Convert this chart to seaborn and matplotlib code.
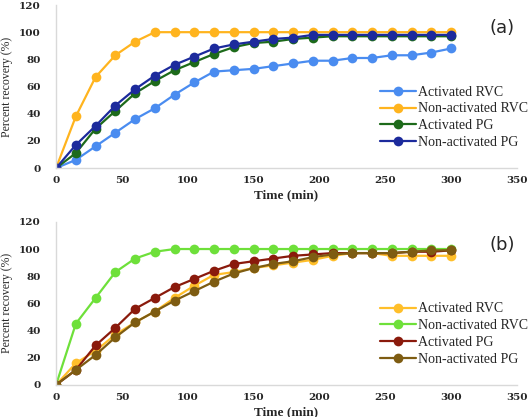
#!/usr/bin/env python3
import numpy as np
import pandas as pd
import matplotlib
matplotlib.use("Agg")
import matplotlib.pyplot as plt
import seaborn as sns

# time points (min)
time = list(range(0, 301, 15))

# panel (a)
a_labels = ['Activated RVC', 'Non-activated RVC', 'Activated PG', 'Non-activated PG']
a_act_rvc = [0, 6, 16, 26, 36, 44, 54, 63, 71, 72, 73, 75, 77, 79, 79, 81, 81, 83, 83, 85, 88]
a_non_rvc = [0, 38, 67, 83, 93, 100, 100, 100, 100, 100, 100, 100, 100, 100, 100, 100, 100, 100, 100, 100, 100]
a_act_pg = [0, 11, 29, 42, 55, 64, 72, 78, 84, 89, 92, 93, 95, 96, 97, 97, 97, 97, 97, 97, 97]
a_non_pg = [0, 17, 31, 46, 58, 68, 76, 82, 88, 91, 93, 95, 96, 98, 98, 98, 98, 98, 98, 98, 98]
a_colors = ['#4a8cf0', '#ffb41e', '#1d6a1a', '#1c2a9c']

# panel (b)
b_labels = ['Activated RVC', 'Non-activated RVC', 'Activated PG', 'Non-activated PG']
b_act_rvc = [0, 16, 25, 37, 46, 54, 64, 73, 81, 83, 86, 88, 90, 92, 95, 97, 97, 95, 95, 95, 95]
b_non_rvc = [0, 45, 64, 83, 93, 98, 100, 100, 100, 100, 100, 100, 100, 100, 100, 100, 100, 100, 100, 100, 100]
b_act_pg = [0, 11, 29, 42, 56, 64, 72, 78, 84, 89, 91, 93, 95, 96, 97, 97, 97, 97, 98, 98, 99]
b_non_pg = [0, 11, 22, 35, 46, 54, 62, 69, 76, 82, 86, 89, 91, 94, 96, 97, 97, 97, 98, 99, 99]
b_colors = ['#ffbf2a', '#6ee03a', '#8a1a0c', '#7e5c12']


def long_df(labels, series):
    rows = []
    for lab, vals in zip(labels, series):
        for t, v in zip(time, vals):
            rows.append({'Time': t, 'Recovery': v, 'Sample': lab})
    return pd.DataFrame(rows)


sns.set_style('white')
plt.rcParams['font.family'] = ['Liberation Serif', 'DejaVu Serif']

fig = plt.figure(figsize=(5.29, 4.17), dpi=100)
ax1 = fig.add_axes([0.106, 0.597, 0.871, 0.391])
ax2 = fig.add_axes([0.106, 0.077, 0.871, 0.391])

panels = [
    (ax1, long_df(a_labels, [a_act_rvc, a_non_rvc, a_act_pg, a_non_pg]), a_labels, a_colors, '(a)'),
    (ax2, long_df(b_labels, [b_act_rvc, b_non_rvc, b_act_pg, b_non_pg]), b_labels, b_colors, '(b)'),
]

for ax, df, labels, colors, tag in panels:
    sns.lineplot(data=df, x='Time', y='Recovery', hue='Sample', hue_order=labels,
                 palette=colors, marker='o', markersize=7, markeredgewidth=0,
                 linewidth=1.6, ax=ax)
    ax.set_xlim(0, 350)
    ax.set_ylim(0, 120)
    ax.set_xticks(range(0, 351, 50))
    ax.set_yticks(range(0, 121, 20))
    ax.tick_params(axis='x', length=0, pad=6)
    ax.tick_params(axis='y', length=0, pad=11)
    for lbl in ax.get_xticklabels() + ax.get_yticklabels():
        lbl.set_fontweight('bold')
        lbl.set_family('DejaVu Serif')
        lbl.set_fontsize(7.5)
    ax.set_xlabel('Time (min)', fontsize=9.5, fontweight='bold', labelpad=1)
    ax.xaxis.set_label_coords(0.5, -0.13)
    ax.set_ylabel('Percent recovery (%)', fontsize=8.5, labelpad=4)
    for s in ['top', 'right']:
        ax.spines[s].set_visible(False)
    for s in ['left', 'bottom']:
        ax.spines[s].set_color('#d9d9d9')
        ax.spines[s].set_linewidth(1)
    ax.legend(frameon=False, loc='upper left', bbox_to_anchor=(0.69, 0.54),
              fontsize=10, handlelength=2.6, handletextpad=0.2, labelspacing=0.28,
              borderaxespad=0)
    ax.text(0.968, 0.86, tag, transform=ax.transAxes, fontsize=13,
            family='DejaVu Sans', ha='center', va='center')

fig.savefig('out.png', dpi=100)
